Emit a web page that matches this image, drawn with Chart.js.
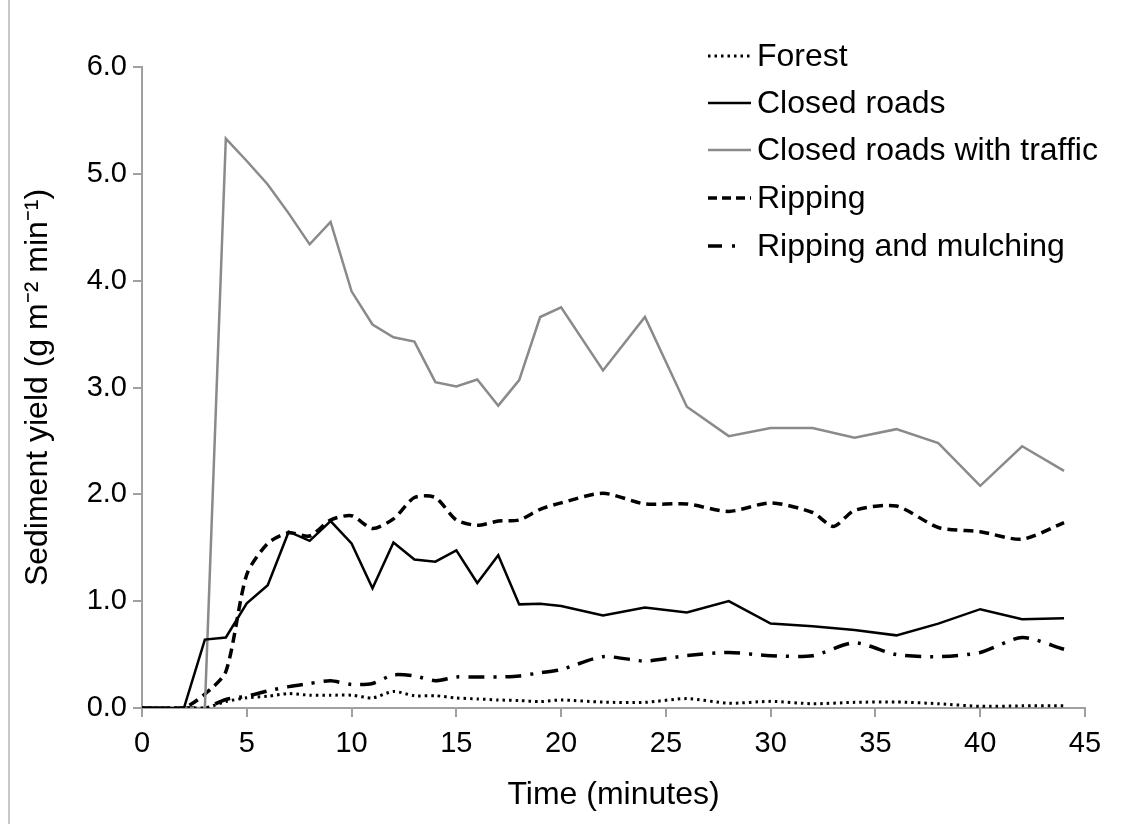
<!DOCTYPE html>
<html>
<head>
<meta charset="utf-8">
<script src="https://cdn.jsdelivr.net/npm/chart.js@4.4.1/dist/chart.umd.min.js"></script>
<style>
  html, body { margin: 0; padding: 0; background: #ffffff; }
  #wrap { position: relative; width: 1131px; height: 824px; overflow: hidden; background: #fff; }
  #edge { position: absolute; left: 8px; top: 0; width: 2px; height: 824px; background: #c8c8c8; }
  #c { position: absolute; left: 0; top: 0; }
</style>
</head>
<body>
<div id="wrap">
  <div id="edge"></div>
  <canvas id="c" width="1131" height="824"></canvas>
</div>
<script>
// ---- data ----
const timeMinutes = [0,1,2,3,4,5,6,7,8,9,10,11,12,13,14,15,16,17,18,19,20,22,24,26,28,30,32,33,34,36,38,40,42,44];
const seriesNames = ['Forest', 'Closed roads', 'Closed roads with traffic', 'Ripping', 'Ripping and mulching'];
const forest = [0,0,0,0,0.06,0.095,0.11,0.135,0.12,0.12,0.12,0.095,0.155,0.115,0.115,0.094,0.085,0.075,0.07,0.06,0.075,0.055,0.053,0.088,0.045,0.062,0.04,null,0.053,0.056,0.04,0.016,0.02,0.02];
const closedRoads = [0,0,0,0.64,0.66,0.98,1.15,1.65,1.565,1.75,1.54,1.12,1.55,1.39,1.37,1.475,1.17,1.43,0.97,0.975,0.955,0.865,0.94,0.895,1.0,0.79,0.765,null,0.73,0.68,0.79,0.925,0.83,0.84];
const closedRoadsTraffic = [0,0,0,0,5.33,5.12,4.9,4.63,4.34,4.55,3.9,3.59,3.47,3.43,3.05,3.01,3.075,2.83,3.07,3.66,3.75,3.16,3.66,2.82,2.545,2.62,2.62,null,2.53,2.61,2.48,2.08,2.45,2.22];
const ripping = [0,0,0,0.13,0.34,1.25,1.54,1.64,1.61,1.76,1.80,1.68,1.77,1.97,1.97,1.76,1.71,1.75,1.76,1.86,1.92,2.01,1.91,1.91,1.84,1.92,1.83,1.70,1.85,1.89,1.69,1.65,1.58,1.735];
const rippingMulching = [0,0,0,0,0.08,0.11,0.16,0.2,0.23,0.255,0.22,0.23,0.31,0.30,0.256,0.29,0.29,0.29,0.30,0.33,0.36,0.48,0.44,0.49,0.52,0.49,0.49,null,0.61,0.50,0.48,0.52,0.66,0.55];
const xTickValues = [0,5,10,15,20,25,30,35,40,45];
const yTickValues = [0,1,2,3,4,5,6];
const xTitle = 'Time (minutes)';
const yTitle = 'Sediment yield (g m\u207B\u00B2 min\u207B\u00B9)';

function pts(vals) { return timeMinutes.map((t, i) => ({ x: t, y: vals[i] })); }

const FONT = "'Liberation Sans', Arial, sans-serif";

const datasets = [
  { label: seriesNames[0], data: pts(forest), borderColor: '#000', borderWidth: 3, borderDash: [2.5, 4], tension: 0.25, legendDash: [2.5, 4] },
  { label: seriesNames[1], data: pts(closedRoads), borderColor: '#000', borderWidth: 2.5, borderDash: [], tension: 0, legendDash: [] },
  { label: seriesNames[2], data: pts(closedRoadsTraffic), borderColor: '#8a8a8a', borderWidth: 2.5, borderDash: [], tension: 0, legendDash: [] },
  { label: seriesNames[3], data: pts(ripping), borderColor: '#000', borderWidth: 3.5, borderDash: [10, 6], tension: 0.25, legendDash: [9, 5] },
  { label: seriesNames[4], data: pts(rippingMulching), borderColor: '#000', borderWidth: 3.5, borderDash: [16, 9, 3, 9], tension: 0.25, legendDash: [14, 10, 3, 20] }
].map(d => Object.assign({ pointRadius: 0, fill: false, spanGaps: true, borderCapStyle: 'butt', borderJoinStyle: 'miter' }, d));

const legendPlugin = {
  id: 'customLegend',
  afterDraw(chart) {
    const ctx = chart.ctx;
    const x0 = 708, x1 = 751, tx = 757;
    const ys = [56, 103, 150, 198, 246];
    ctx.save();
    chart.data.datasets.forEach((ds, i) => {
      const y = ys[i];
      ctx.beginPath();
      ctx.setLineDash(ds.legendDash);
      ctx.lineWidth = ds.borderWidth;
      ctx.strokeStyle = ds.borderColor;
      ctx.lineCap = 'butt';
      ctx.moveTo(x0, y);
      ctx.lineTo(x1, y);
      ctx.stroke();
      ctx.setLineDash([]);
      ctx.fillStyle = '#000';
      ctx.font = "32px " + FONT;
      ctx.textAlign = 'left';
      ctx.textBaseline = 'middle';
      ctx.fillText(ds.label, tx, y + 1);
    });
    ctx.restore();
  }
};

new Chart(document.getElementById('c'), {
  type: 'line',
  data: { datasets },
  options: {
    responsive: false,
    animation: false,
    events: [],
    layout: { padding: { left: 0, top: 67, right: 46, bottom: 0 } },
    plugins: { legend: { display: false }, tooltip: { enabled: false } },
    scales: {
      x: {
        type: 'linear', min: 0, max: 45,
        afterBuildTicks: s => { s.ticks = xTickValues.map(v => ({ value: v })); },
        afterFit: s => { s.height = 116; },
        ticks: { color: '#000', font: { family: FONT, size: 29 }, padding: 10, maxRotation: 0, autoSkip: false },
        grid: { drawOnChartArea: false, drawTicks: true, tickLength: 9, color: '#a0a0a0', lineWidth: 2 },
        border: { color: '#a0a0a0', width: 2 },
        title: { display: true, text: xTitle, color: '#000', font: { family: FONT, size: 32 }, padding: { top: 0, bottom: 10 } }
      },
      y: {
        type: 'linear', min: 0, max: 6,
        afterBuildTicks: s => { s.ticks = yTickValues.map(v => ({ value: v })); },
        afterFit: s => { s.width = 142; },
        ticks: { color: '#000', font: { family: FONT, size: 29 }, padding: 6, callback: v => Number(v).toFixed(1) },
        grid: { drawOnChartArea: false, drawTicks: true, tickLength: 9, color: '#a0a0a0', lineWidth: 2 },
        border: { color: '#a0a0a0', width: 2 },
        title: { display: true, text: yTitle, color: '#000', font: { family: FONT, size: 32 }, padding: { top: 19, bottom: 0 } }
      }
    }
  },
  plugins: [legendPlugin]
});
</script>
</body>
</html>
